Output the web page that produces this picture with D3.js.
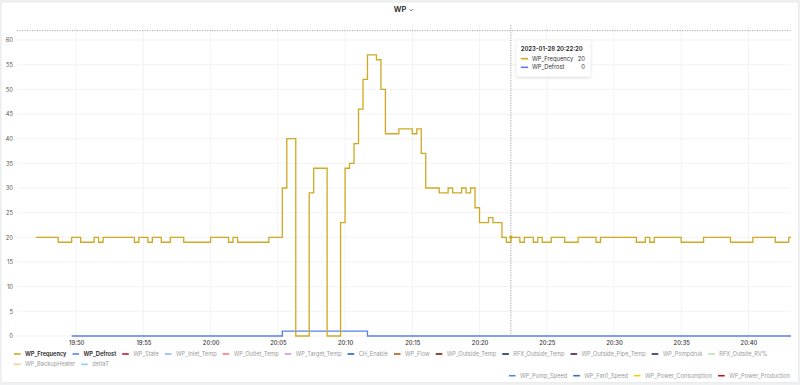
<!DOCTYPE html>
<html>
<head>
<meta charset="utf-8">
<script src="https://cdn.jsdelivr.net/npm/d3@7"></script>
<style>
  body { margin: 0; background: #eff0f1; font-family: Inter, "Noto Sans", sans-serif; }
  svg { display: block; }
</style>
</head>
<body>
<div id="chart"></div>
<script>
// values (step series, change points only)
const day = "2023-01-28";
const freqTimes = ["19:47:00","19:48:40","19:49:40","19:50:20","19:51:20","19:51:40","19:52:00","19:54:20","19:54:40","19:55:20",
  "19:55:40","19:56:20","19:57:00","19:58:00","20:00:00","20:01:20","20:01:40","20:02:00","20:04:20","20:05:20",
  "20:05:40","20:06:20","20:07:20","20:07:40","20:08:40","20:09:40","20:10:00","20:10:20","20:10:40","20:11:00",
  "20:11:20","20:11:40","20:12:20","20:12:40","20:13:00","20:14:00","20:15:00","20:15:20","20:15:40","20:16:00",
  "20:17:00","20:17:40","20:18:00","20:18:40","20:19:00","20:19:20","20:19:40","20:20:00","20:20:40","20:21:00",
  "20:21:40","20:22:00","20:22:20","20:23:00","20:23:20","20:24:00","20:24:20","20:24:40","20:25:20","20:26:20",
  "20:27:20","20:28:40","20:29:00","20:31:40","20:32:20","20:32:40","20:33:00","20:35:00","20:36:40","20:38:40",
  "20:40:20","20:42:00","20:43:00","20:43:10"];
const freqValues = [20,19,20,19,20,19,20,19,20,19,
  20,19,20,19,20,19,20,19,20,30,
  40,0,29,34,0,23,34,35,39,46,
  52,57,56,50,41,42,41,42,37,30,
  29,30,29,30,29,30,26,23,24,23,
  20,19,20,19,20,19,20,19,20,19,
  20,19,20,19,20,19,20,19,20,19,
  20,19,20,20];
const defrostTimes = ["19:49:40","20:05:20","20:11:40","20:43:10"];
const defrostValues = [0,1,0,0];

const yTicks = [0,5,10,15,20,25,30,35,40,45,50,55,60];
const hoverTime = "20:22:20";
const hoverY = 61.9; // value under the cursor (horizontal crosshair)

const legendRow1 = ["WP_Frequency","WP_Defrost","WP_State","WP_Inlet_Temp","WP_Outlet_Temp","WP_Target_Temp","CH_Enable",
  "WP_Flow","WP_Outside_Temp","RFX_Outside_Temp","WP_Outside_Pipe_Temp","WP_Pompdruk","RFX_Outsite_RV%"];
const legendRow2 = ["WP_BackupHeater","deltaT"];
const legendRow3 = ["WP_Pump_Speed","WP_Fan1_Speed","WP_Power_Consumption","WP_Power_Production"];
const shownSeries = ["WP_Frequency","WP_Defrost"];

const colors = {
  WP_Frequency: "#cfa923", WP_Defrost: "#5b80ea", WP_State: "#c4162a", WP_Inlet_Temp: "#8ab8ff",
  WP_Outlet_Temp: "#ff7383", WP_Target_Temp: "#ca95e5", CH_Enable: "#1f60c4", WP_Flow: "#b15a1a",
  WP_Outside_Temp: "#6d1f12", RFX_Outside_Temp: "#1b2a4e", WP_Outside_Pipe_Temp: "#4a1a4c",
  WP_Pompdruk: "#2b2a5e", "RFX_Outsite_RV%": "#b9e3b0", WP_BackupHeater: "#ead38a", deltaT: "#8fd0ec",
  WP_Pump_Speed: "#5b80ea", WP_Fan1_Speed: "#3f63d8", WP_Power_Consumption: "#f2cc0c", WP_Power_Production: "#ad1a1a"
};

const W = 800, H = 385;
const parse = d3.timeParse("%Y-%m-%d %H:%M:%S");
const t = s => parse(day + " " + s);

const freq = freqTimes.map((s, i) => ({ t: t(s), v: freqValues[i] }));
const defrost = defrostTimes.map((s, i) => ({ t: t(s), v: defrostValues[i] }));

const plot = { left: 17, right: 791, top: 25, bottom: 336 };
const x = d3.scaleTime().domain([t("19:45:36"), t("20:43:10")]).range([plot.left, plot.right]);
const y = d3.scaleLinear().domain([0, 60]).range([336, 40]);

const svg = d3.select("#chart").append("svg").attr("width", W).attr("height", H);

const defs = svg.append("defs");
defs.append("clipPath").attr("id", "clip").append("rect")
  .attr("x", plot.left).attr("y", plot.top).attr("width", plot.right - plot.left).attr("height", plot.bottom - plot.top + 2);
const shadow = defs.append("filter").attr("id", "shadow").attr("x", "-20%").attr("y", "-30%").attr("width", "140%").attr("height", "170%");
shadow.append("feDropShadow").attr("dx", 0).attr("dy", 1).attr("stdDeviation", 1.6).attr("flood-color", "#000").attr("flood-opacity", 0.18);

// panel
svg.append("rect").attr("x", 1).attr("y", 2).attr("width", W - 2.5).attr("height", H - 4.5)
  .attr("rx", 3).attr("fill", "#fff").attr("stroke", "#e6e7e8").attr("stroke-width", 0.8);

// title
svg.append("text").attr("x", 400).attr("y", 12)
  .attr("text-anchor", "middle").style("font-size", "7.5px").style("font-weight", 600).attr("fill", "#222")
  .text("WP");
svg.append("path").attr("d", "M409.6,9.3 l1.6,1.6 l1.6,-1.6").attr("fill", "none").attr("stroke", "#444").attr("stroke-width", 0.8);

// grid
const timeTicks = x.ticks(d3.timeMinute.every(5));
svg.append("g").selectAll("line").data(timeTicks).join("line")
  .attr("x1", d => x(d)).attr("x2", d => x(d)).attr("y1", plot.top).attr("y2", plot.bottom + 3)
  .attr("stroke", "#f0f0f0").attr("stroke-width", 0.8);
svg.append("g").selectAll("line").data(yTicks).join("line")
  .attr("x1", plot.left).attr("x2", plot.right).attr("y1", d => y(d)).attr("y2", d => y(d))
  .attr("stroke", "#f0f0f0").attr("stroke-width", 0.8);

// axes
const yAxis = svg.append("g").attr("transform", "translate(13,0)")
  .call(d3.axisLeft(y).tickValues(yTicks).tickSize(0).tickPadding(0));
yAxis.select(".domain").remove();
yAxis.selectAll("text").attr("fill", "#555").style("font-size", "5.8px").style("font-family", "Inter, sans-serif");

const xAxis = svg.append("g").attr("transform", "translate(0,341)")
  .call(d3.axisBottom(x).ticks(d3.timeMinute.every(5)).tickFormat(d3.timeFormat("%H:%M")).tickSize(0).tickPadding(0));
xAxis.select(".domain").remove();
xAxis.selectAll("text").attr("fill", "#333").style("font-size", "5.8px").style("font-weight", 500).style("font-family", "Inter, sans-serif");

// series
const line = d3.line().x(d => x(d.t)).y(d => y(d.v)).curve(d3.curveStepAfter);
const series = svg.append("g").attr("clip-path", "url(#clip)");
series.append("path").datum(defrost).attr("d", line).attr("fill", "none")
  .attr("stroke", colors.WP_Defrost).attr("stroke-width", 1.3);
series.append("path").datum(freq).attr("d", line).attr("fill", "none")
  .attr("stroke", colors.WP_Frequency).attr("stroke-width", 1.3);

// crosshair
const hx = x(t(hoverTime));
svg.append("line").attr("x1", hx).attr("x2", hx).attr("y1", plot.top).attr("y2", plot.bottom)
  .attr("stroke", "#999").attr("stroke-width", 0.9).attr("stroke-dasharray", "1.2,1.3");
svg.append("line").attr("x1", plot.left).attr("x2", plot.right).attr("y1", y(hoverY)).attr("y2", y(hoverY))
  .attr("stroke", "#999").attr("stroke-width", 0.9).attr("stroke-dasharray", "1.2,1.3");

const bis = d3.bisector(d => d.t).right;
const valueAt = (arr, time) => arr[Math.max(0, bis(arr, time) - 1)].v;
const hoverFreq = valueAt(freq, t(hoverTime));
const hoverDef = valueAt(defrost, t(hoverTime));
svg.append("circle").attr("cx", hx).attr("cy", y(hoverFreq)).attr("r", 1.8).attr("fill", colors.WP_Frequency);

// tooltip
const tip = svg.append("g").attr("transform", "translate(516.5,40.5)");
tip.append("rect").attr("width", 74).attr("height", 36).attr("rx", 2).attr("fill", "#fff").attr("filter", "url(#shadow)");
tip.append("text").attr("x", 4.3).attr("y", 10.6).style("font-size", "5.9px").style("font-weight", 600).attr("fill", "#222")
  .text(day + " " + hoverTime);
[["WP_Frequency", hoverFreq], ["WP_Defrost", hoverDef]].forEach(([name, v], i) => {
  const cy = 18.2 + i * 8.6;
  tip.append("line").attr("x1", 4.3).attr("x2", 11.5).attr("y1", cy).attr("y2", cy)
    .attr("stroke", colors[name]).attr("stroke-width", 1.6);
  tip.append("text").attr("x", 15.5).attr("y", cy + 2).style("font-size", "5.8px").attr("fill", "#333").text(name);
  tip.append("text").attr("x", 68.5).attr("y", cy + 2).attr("text-anchor", "end").style("font-size", "5.8px").attr("fill", "#333").text(v);
});

// legend
const legend = svg.append("g");
function legendItem(g, name, xPos, cy) {
  const on = shownSeries.includes(name);
  g.append("line").attr("x1", xPos).attr("x2", xPos + 6.6).attr("y1", cy).attr("y2", cy)
    .attr("stroke", colors[name]).attr("stroke-width", 1.6);
  const tx = g.append("text").attr("x", xPos + 11).attr("y", cy + 2)
    .style("font-size", "5.7px").style("font-weight", on ? 600 : 400)
    .attr("fill", on ? "#222" : "#9b9b9b").text(name);
  return tx.node().getComputedTextLength() + 11;
}
function flowRow(names, x0, cy) {
  let xp = x0;
  names.forEach(n => { xp += legendItem(legend, n, xp, cy) + 6; });
}
flowRow(legendRow1, 14, 354);
flowRow(legendRow2, 14, 364.3);
// last row sits right-aligned
const tmp = svg.append("g").attr("opacity", 0);
const widths = legendRow3.map(n => legendItem(tmp, n, 0, 0));
tmp.remove();
const startX = 790 - d3.sum(widths) - 6 * (widths.length - 1);
flowRow(legendRow3, startX, 375.7);
</script>
</body>
</html>
